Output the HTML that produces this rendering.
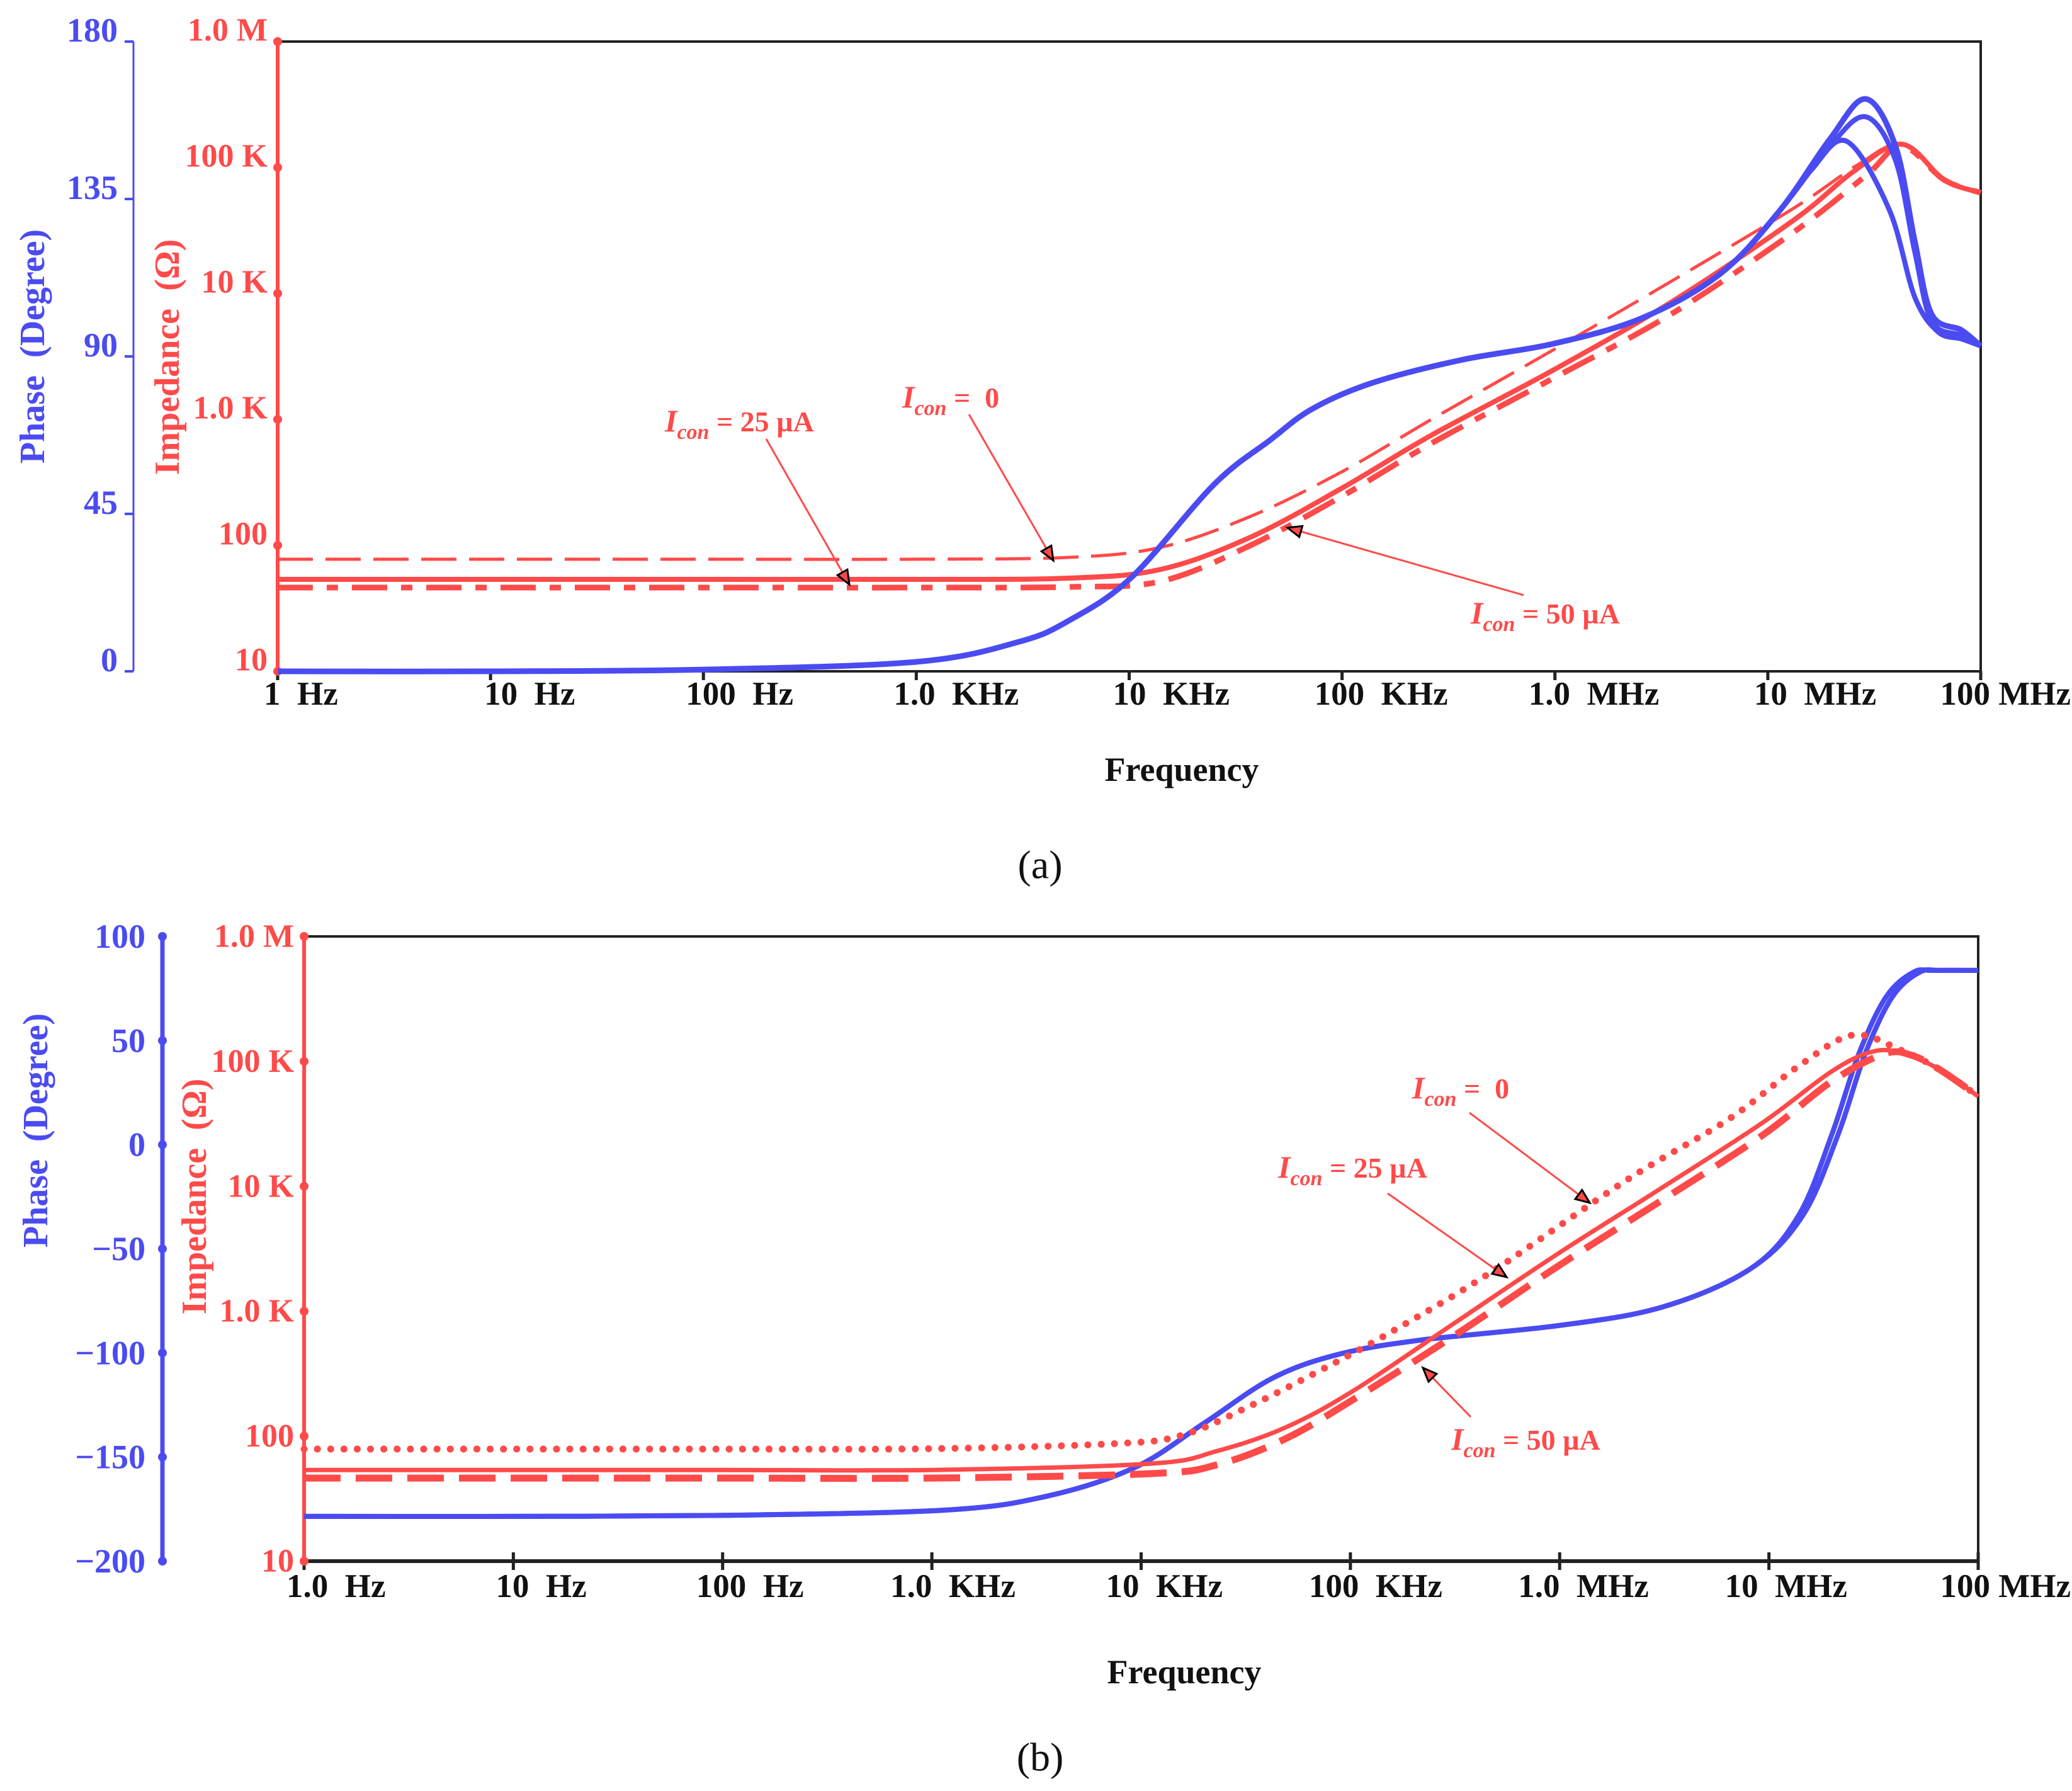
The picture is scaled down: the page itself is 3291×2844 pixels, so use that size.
<!DOCTYPE html>
<html><head><meta charset="utf-8">
<style>
html,body{margin:0;padding:0;background:#fff;}
svg{display:block;}
text{font-family:"Liberation Serif",serif;font-weight:bold;white-space:pre;}
</style></head>
<body>
<svg id="chart" width="3291" height="2844" viewBox="0 0 3291 2844" xmlns="http://www.w3.org/2000/svg">
</svg>
<script>
// ---------- shared ----------
const xTickLabelsA = ["1  Hz","10  Hz","100  Hz","1.0  KHz","10  KHz","100  KHz","1.0  MHz","10  MHz","100 MHz"];
const xTickLabelsB = ["1.0  Hz","10  Hz","100  Hz","1.0  KHz","10  KHz","100  KHz","1.0  MHz","10  MHz","100 MHz"];
const impTickLabels = ["10","100","1.0 K","10 K","100 K","1.0 M"];
const phaseTicksA = [0,45,90,135,180];
const phaseTicksB = [-200,-150,-100,-50,0,50,100];
const phaseTickLabelsB = ["\u2212200","\u2212150","\u2212100","\u221250","0","50","100"];

// ---------- panel (a) data: x = log10(freq Hz), impedance = log10(ohm), phase = degrees ----------
const phaseA1_f = [0,1,2,3,3.48,3.72,4.01,4.40,4.66,4.86,5.14,5.56,5.99,6.41,6.78,7.06,7.29,7.46,7.60,7.69,7.77,7.91,8.0];
const phaseA1_v = [0,0,0.5,2.7,8.4,14.6,26.8,53.5,66,75,82.4,89,93.6,101,113.8,132,152,163.6,150,123,102,97.5,93];
const phaseA2_f = [0,1,2,3,3.48,3.72,4.01,4.40,4.66,4.86,5.14,5.56,5.99,6.41,6.78,7.06,7.29,7.46,7.60,7.69,7.77,7.91,8.0];
const phaseA2_v = [0,0,0.5,2.7,8.4,14.6,26.8,53.5,66,75,82.4,89,93.6,101,113.8,132,150,158.5,146,120,100,96,93];
const phaseA3_f = [0,1,2,3,3.48,3.72,4.01,4.40,4.66,4.86,5.14,5.56,5.99,6.41,6.78,7.06,7.20,7.37,7.57,7.69,7.80,7.91,8.0];
const phaseA3_v = [0,0,0.5,2.7,8.4,14.6,26.8,53.5,66,75,82.4,89,93.6,101,113.8,132,143,151.5,132,107,97,95,93];

const impA0_f = [0,1,2,3,3.72,4.15,4.57,5.0,5.42,5.99,6.55,7.12,7.43,7.63,7.83,8.0];
const impA0_v = [1.89,1.89,1.89,1.89,1.905,1.985,2.23,2.585,3.0,3.55,4.1,4.675,5.03,5.185,4.9,4.8];
const impA25_f = [0,1,2,3,3.72,4.15,4.57,5.0,5.42,5.99,6.55,7.12,7.40,7.63,7.83,8.0];
const impA25_v = [1.73,1.73,1.73,1.73,1.74,1.81,2.065,2.455,2.875,3.39,3.935,4.58,4.965,5.185,4.9,4.8];
const impA50_f = [0,1,2,3,3.72,4.15,4.57,5.0,5.42,5.99,6.55,7.12,7.46,7.63,7.83,8.0];
const impA50_v = [1.665,1.665,1.665,1.665,1.67,1.715,2.0,2.39,2.81,3.325,3.84,4.485,4.935,5.17,4.9,4.8];

// ---------- panel (b) data ----------
const phaseB1_f = [0,1,2,3.06,3.55,3.97,4.30,4.63,4.95,5.34,6.0,6.49,6.91,7.14,7.30,7.43,7.56,7.69,7.79,8.0];
const phaseB1_v = [-178.5,-178.5,-178,-175.5,-168.8,-155,-133.8,-112,-100.5,-93.8,-86.8,-78,-59.7,-34.3,4.7,43.7,71,82.8,83.7,83.7];
const phaseB2_f = [0,1,2,3.06,3.55,3.97,4.30,4.63,4.95,5.34,6.0,6.49,6.91,7.16,7.33,7.46,7.59,7.72,7.82,8.0];
const phaseB2_v = [-178.5,-178.5,-178,-175.5,-168.8,-155,-133.8,-112,-100.5,-93.8,-86.8,-78,-59.7,-34.3,4.7,43.7,71,82.8,83.7,83.7];

const impB0_f = [0,1,2,3,3.87,4.20,4.53,4.86,5.18,5.67,6.32,6.81,7.14,7.40,7.63,7.82,8.0];
const impB0_v = [1.897,1.897,1.897,1.9,1.94,2.01,2.25,2.53,2.82,3.31,4.05,4.54,4.96,5.21,5.09,4.93,4.72];
const impB25_f = [0,1,2,3,4.04,4.36,4.69,5.02,5.51,6.0,6.49,6.97,7.30,7.50,7.65,7.82,8.0];
const impB25_v = [1.73,1.73,1.73,1.73,1.78,1.88,2.07,2.37,2.92,3.47,3.99,4.51,4.92,5.08,5.06,4.93,4.72];
const impB50_f = [0,1,2,3,4.04,4.36,4.69,5.02,5.51,6.0,6.49,6.97,7.30,7.55,7.68,7.82,8.0];
const impB50_v = [1.665,1.665,1.665,1.665,1.70,1.77,1.98,2.30,2.82,3.37,3.89,4.41,4.84,5.06,5.05,4.93,4.72];

const BLUE = "#4b4bf2", RED = "#ff4a4a";
const svg = document.getElementById("chart");
const NS = "http://www.w3.org/2000/svg";
function mk(tag, attrs, parent){
  const e = document.createElementNS(NS, tag);
  for (const k in attrs) e.setAttribute(k, attrs[k]);
  (parent||svg).appendChild(e);
  return e;
}
function smooth(pts){
  let d = "M" + pts[0][0].toFixed(1) + "," + pts[0][1].toFixed(1);
  for (let i=0;i<pts.length-1;i++){
    const p0=pts[Math.max(0,i-1)], p1=pts[i], p2=pts[i+1], p3=pts[Math.min(pts.length-1,i+2)];
    const c1x=p1[0]+(p2[0]-p0[0])/6, c1y=p1[1]+(p2[1]-p0[1])/6;
    const c2x=p2[0]-(p3[0]-p1[0])/6, c2y=p2[1]-(p3[1]-p1[1])/6;
    d += " C"+c1x.toFixed(1)+","+c1y.toFixed(1)+" "+c2x.toFixed(1)+","+c2y.toFixed(1)+" "+p2[0].toFixed(1)+","+p2[1].toFixed(1);
  }
  return d;
}
function series(fs, vs, xf, yf, style, name){
  const pts = fs.map((f,i)=>[xf(f), yf(vs[i])]);
  const p = mk("path", Object.assign({d:smooth(pts), fill:"none"}, style));
  
  
  return p;
}
function txt(x,y,s,attrs,name){
  const t = mk("text", Object.assign({x:x,y:y}, attrs));
  t.textContent = s;
  
  
  return t;
}
function annot(tx,ty,suffix,x1,y1,x2,y2,name){
  const t = mk("text",{x:tx,y:ty,fill:RED,"font-size":46});
  
  
  const a = document.createElementNS(NS,"tspan"); a.setAttribute("font-style","italic"); a.setAttribute("font-size","50"); a.textContent="I"; t.appendChild(a);
  const b = document.createElementNS(NS,"tspan"); b.setAttribute("font-style","italic"); b.setAttribute("font-size","34"); b.setAttribute("dy","12"); b.textContent="con"; t.appendChild(b);
  const c = document.createElementNS(NS,"tspan"); c.setAttribute("dy","-12"); c.textContent=suffix; t.appendChild(c);
  const l = mk("line",{x1:x1,y1:y1,x2:x2,y2:y2,stroke:RED,"stroke-width":3});
  
  
  const ang = Math.atan2(y2-y1,x2-x1);
  const L=22,W=9;
  const bx=x2-L*Math.cos(ang), by=y2-L*Math.sin(ang);
  const pts=[[x2,y2],[bx+W*Math.sin(ang),by-W*Math.cos(ang)],[bx-W*Math.sin(ang),by+W*Math.cos(ang)]];
  const h = mk("polygon",{points:pts.map(p=>p.join(",")).join(" "),fill:RED,stroke:"#000","stroke-width":3});
  
  
}

function panel(cfg){
  const {L,R,T,B,phMin,phMax,phAxisX,pfx} = cfg;
  const xf = d => L + (R-L)*d/8;
  const yImp = v => B - (B-T)*(v-1)/5;
  const yPh = v => B - (B-T)*(v-phMin)/(phMax-phMin);
  let e = mk("polyline",{points:`${L},${T} ${R},${T} ${R},${B}`,fill:"none",stroke:"#222","stroke-width":4});
   
  e = mk("line",{x1:L,y1:B,x2:R,y2:B,stroke:"#222","stroke-width":cfg.bottomW});
   
  cfg.xlabels.forEach((s,i)=>{
    const x = xf(i);
    const tk = mk("line",{x1:x,y1:B-cfg.xtickUp,x2:x,y2:B+cfg.xtickDown,stroke:"#222","stroke-width":5});
     
    const last = i===cfg.xlabels.length-1;
    txt(last? 3289 : x+cfg.xlabOff[i], cfg.xlabY, s, {fill:"#111","font-size":53,"text-anchor":last?"end":"start","dominant-baseline":"central"}, pfx+'-x-tick-label');
  });
  e = mk("line",{x1:phAxisX,y1:T,x2:phAxisX,y2:B,stroke:BLUE,"stroke-width":cfg.phW});
   
  cfg.phTicks.forEach((v,i)=>{
    const y=yPh(v);
    const m = cfg.phDots ? mk("circle",{cx:phAxisX,cy:y,r:7,fill:BLUE}) : mk("line",{x1:phAxisX-14,y1:y,x2:phAxisX,y2:y,stroke:BLUE,"stroke-width":4});
     
    txt(cfg.phLabX, y+cfg.labDy, cfg.phLabels[i], {fill:BLUE,"font-size":54,"text-anchor":"end","dominant-baseline":"central"}, pfx+'-phase-tick-label');
  });
  e = mk("line",{x1:L,y1:T,x2:L,y2:B,stroke:RED,"stroke-width":6});
   
  impTickLabels.forEach((s,i)=>{
    const y=yImp(i+1);
    const m = mk("circle",{cx:L,cy:y,r:7,fill:RED});
     
    txt(L-16, y+cfg.labDy, s, {fill:RED,"font-size":52,"text-anchor":"end","dominant-baseline":"central"}, pfx+'-impedance-tick-label');
  });
  txt(cfg.phTitle[0],cfg.phTitle[1],"Phase  (Degree)",{fill:BLUE,"font-size":56,"text-anchor":"middle","dominant-baseline":"central",transform:`rotate(-90 ${cfg.phTitle[0]} ${cfg.phTitle[1]})`},pfx+'-phase-axis-title');
  txt(cfg.imTitle[0],cfg.imTitle[1],"Impedance  (\u03A9)",{fill:RED,"font-size":56,"text-anchor":"middle","dominant-baseline":"central",transform:`rotate(-90 ${cfg.imTitle[0]} ${cfg.imTitle[1]})`},pfx+'-impedance-axis-title');
  txt(cfg.fTitle[0],cfg.fTitle[1],"Frequency",{fill:"#111","font-size":54,"text-anchor":"middle","dominant-baseline":"central"},pfx+'-x-axis-title');
  txt(cfg.cap[0],cfg.cap[1],cfg.capText,{fill:"#111","font-size":64,"text-anchor":"middle","dominant-baseline":"central",style:"font-weight:normal"},pfx+'-panel-caption');
  return {xf,yImp,yPh};
}

// ---------- panel (a) ----------
const A = panel({L:441,R:3146,T:66,B:1066,phMin:0,phMax:180,phAxisX:212,phW:3,phDots:false,
  phTicks:phaseTicksA, phLabels:phaseTicksA.map(String), phLabX:187, labDy:-18, bottomW:4,
  xlabels:xTickLabelsA, xlabOff:[-22,-10,-28,-36,-26,-44,-42,-22,0], xlabY:1102, xtickUp:0, xtickDown:14,
  phTitle:[52,550], imTitle:[266,567], fTitle:[1877,1222], cap:[1652,1373], capText:"(a)", pfx:"panel-a"});
series(impA0_f, impA0_v, A.xf, A.yImp, {stroke:RED,"stroke-width":5,"stroke-dasharray":"56 20"}, "impedance-a-icon-0");
series(impA25_f, impA25_v, A.xf, A.yImp, {stroke:RED,"stroke-width":8}, "impedance-a-icon-25ua");
series(impA50_f, impA50_v, A.xf, A.yImp, {stroke:RED,"stroke-width":9,"stroke-dasharray":"56 22 18 22"}, "impedance-a-icon-50ua");
series(phaseA1_f, phaseA1_v, A.xf, A.yPh, {stroke:BLUE,"stroke-width":9}, "phase-a-icon-0");
series(phaseA2_f, phaseA2_v, A.xf, A.yPh, {stroke:BLUE,"stroke-width":8}, "phase-a-icon-25ua");
series(phaseA3_f, phaseA3_v, A.xf, A.yPh, {stroke:BLUE,"stroke-width":8}, "phase-a-icon-50ua");
annot(1433,647," =  0",1539,658,1673,890,"annotation-a-icon-0");
annot(1056,685," = 25 \u00B5A",1217,697,1349,928,"annotation-a-icon-25ua");
annot(2336,990," = 50 \u00B5A",2420,945,2045,838,"annotation-a-icon-50ua");

// ---------- panel (b) ----------
const Bp = panel({L:483,R:3142,T:1487,B:2479,phMin:-200,phMax:100,phAxisX:258,phW:7,phDots:true,
  phTicks:phaseTicksB, phLabels:phaseTickLabelsB, phLabX:231, labDy:0, bottomW:6,
  xlabels:xTickLabelsB, xlabOff:[-28,-28,-42,-66,-56,-66,-66,-70,0], xlabY:2519, xtickUp:14, xtickDown:14,
  phTitle:[57,1795], imTitle:[309,1900], fTitle:[1881,2655], cap:[1652,2790], capText:"(b)", pfx:"panel-b"});
series(phaseB1_f, phaseB1_v, Bp.xf, Bp.yPh, {stroke:BLUE,"stroke-width":8}, "phase-b-series-1");
series(phaseB2_f, phaseB2_v, Bp.xf, Bp.yPh, {stroke:BLUE,"stroke-width":8}, "phase-b-series-2");
series(impB0_f, impB0_v, Bp.xf, Bp.yImp, {stroke:RED,"stroke-width":11,"stroke-dasharray":"0.1 21","stroke-linecap":"round"}, "impedance-b-icon-0");
series(impB25_f, impB25_v, Bp.xf, Bp.yImp, {stroke:RED,"stroke-width":7}, "impedance-b-icon-25ua");
series(impB50_f, impB50_v, Bp.xf, Bp.yImp, {stroke:RED,"stroke-width":11,"stroke-dasharray":"58 24"}, "impedance-b-icon-50ua");
annot(2243,1744," =  0",2334,1767,2525,1910,"annotation-b-icon-0");
annot(2030,1870," = 25 \u00B5A",2204,1895,2393,2028,"annotation-b-icon-25ua");
annot(2305,2302," = 50 \u00B5A",2336,2250,2260,2172,"annotation-b-icon-50ua");
</script>
</body></html>
